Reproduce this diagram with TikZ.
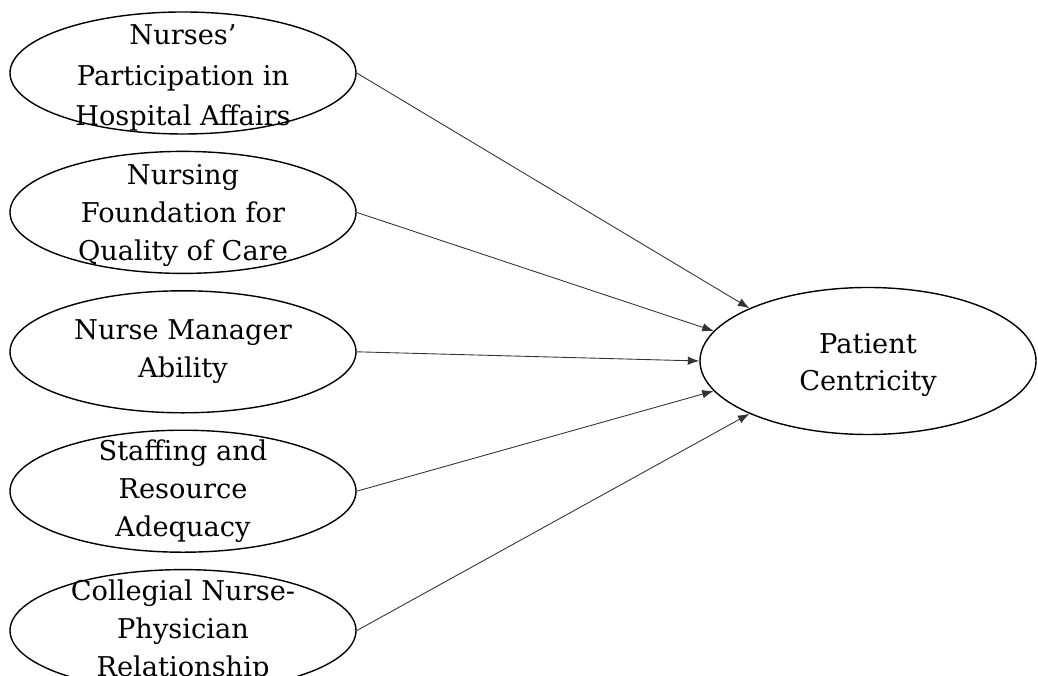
\documentclass[tikz,border=0pt]{standalone}
\usepackage{fontspec}
\setmainfont{DejaVu Serif}
\usetikzlibrary{arrows.meta,positioning,shapes.geometric}

\begin{document}
\begin{tikzpicture}[
  factor/.style={ellipse,draw,line width=0.8pt,minimum width=6.92cm,minimum height=2.44cm,inner sep=0pt},
  outcome/.style={ellipse,draw,line width=0.8pt,minimum width=6.72cm,minimum height=2.94cm,inner sep=0pt},
  txt/.style={align=center,inner sep=0pt,font=\fontsize{15.5}{21.6}\selectfont},
  link/.style={-{Latex[length=2.3mm,width=1.7mm]},draw=black!80,line width=0.5pt}
]
\clip (0,0) rectangle (20.76,13.52);
% five work environment factors, stacked
\node[factor,label={[txt,yshift=-0.1cm,font=\fontsize{15.5}{23}\selectfont]center:{Nurses'\\Participation in\\Hospital Affairs}}] (part) at (3.66,12.06) {};
\node[factor,below=0.32cm of part,label={[txt,yshift=-0.06cm]center:{Nursing\\Foundation for\\Quality of Care}}] (found) {};
\node[factor,below=0.32cm of found,label={[txt]center:{Nurse Manager\\Ability}}] (mgr) {};
\node[factor,below=0.32cm of mgr,label={[txt]center:{Staffing and\\Resource\\Adequacy}}] (staff) {};
\node[factor,below=0.32cm of staff,label={[txt]center:{Collegial Nurse-\\Physician\\Relationship}}] (coll) {};
% outcome
\node[outcome,label={[txt,yshift=-0.08cm]center:{Patient\\Centricity}}] (pc) at (17.36,6.30) {};
\draw[link] (part.east) -- (pc.156);
\draw[link] (found.east) -- (pc.169);
\draw[link] (mgr.east) -- (pc.180);
\draw[link] (staff.east) -- (pc.191);
\draw[link] (coll.east) -- (pc.204);
\end{tikzpicture}
\end{document}
